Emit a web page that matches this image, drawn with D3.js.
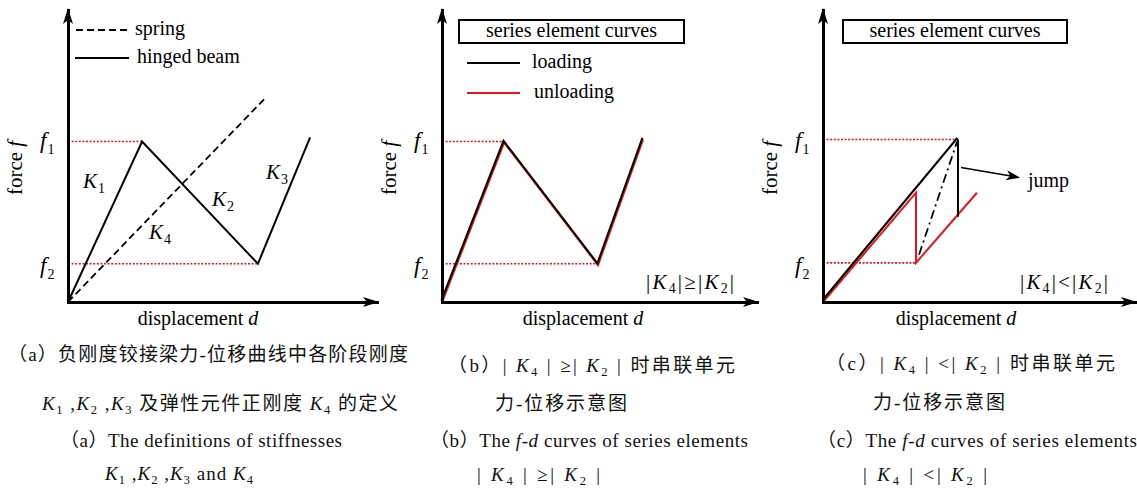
<!DOCTYPE html>
<html><head><meta charset="utf-8">
<script src="https://cdn.jsdelivr.net/npm/d3@7"></script>
<style>html,body{margin:0;padding:0;background:#fff}svg{display:block}</style>
</head><body>
<svg id="chart" width="1137" height="489"></svg>
<script>
// ---------------- data ----------------
const panelIds = ["a", "b", "c"];
const xMax = [103, 105, 104];          // displacement axis extent per panel
const yMax = 97;                        // force axis extent
const forceLevels = [53.3, 12.7];       // f1, f2
const forceLabels = ["1", "2"];

// panel (a)
const springA = [[0, 0], [66, 68]];
const hingedBeamA = [[0, 0], [24.7, 53.3], [63.3, 12.7], [80.7, 54.7]];
const refA = [[24.7, 53.3], [63.3, 12.7]];
const stiffLabelsA = [["1", 5, 38], ["2", 48, 32], ["3", 66, 41], ["4", 27, 21]];

// panel (b)
const loadingB = [[0, 0], [20.7, 53], [52, 12.3], [67, 54]];
const unloadingB = [[0, 0], [20.7, 53], [52, 12.3], [67, 54]];
const refB = [[20.7, 53.3], [52, 12.7]];

// panel (c)
const loadingC = [[0, 0], [45, 54], [45, 28.3]];
const unloadingC = [[0, 0], [31, 36.3], [31, 13], [51.3, 36.3]];
const jumpPathC = [[32, 15.7], [44.7, 53.3]];
const jumpArrowC = [[46, 44.7], [65.7, 41.3]];
const refC = [[45, 54], [31, 13]];

const legendA = ["spring", "hinged beam"];
const legendBC = ["loading", "unloading"];
const boxTitle = "series element curves";
const conditionText = ["|K_4|≥|K_2|", "|K_4|<|K_2|"];

const captions = [
  ["（a）负刚度铰接梁力-位移曲线中各阶段刚度", "K_1 ,K_2 ,K_3 及弹性元件正刚度 K_4 的定义",
   "（a）The definitions of stiffnesses", "K_1 ,K_2 ,K_3 and K_4"],
  ["（b）| K_4 | ≥| K_2 | 时串联单元", "力-位移示意图",
   "（b）The ~f-d~ curves of series elements", "| K_4 | ≥| K_2 |"],
  ["（c）| K_4 | <| K_2 | 时串联单元", "力-位移示意图",
   "（c）The ~f-d~ curves of series elements", "| K_4 | <| K_2 |"]
];

// ---------------- drawing ----------------
const SERIF = "'Liberation Serif','Times New Roman',serif";
const CAP = "'Liberation Serif','Noto Sans CJK SC',serif";
const RED = "#e8141b";
const svg = d3.select("#chart");

const yScale = d3.scaleLinear().domain([0, yMax]).range([302, 10]);
const xRanges = [[68, 377], [442, 757], [823, 1135]];
const xScales = xMax.map((m, i) => d3.scaleLinear().domain([0, m]).range(xRanges[i]));

function lineGen(x) {
  return d3.line().x(d => x(d[0])).y(d => yScale(d[1]));
}

// rich text: K_n => italic K + subscript n ; ~txt~ => italic
function rich(text, str, fs, shf) {
  const parts = str.split(/(K_\d|~[^~]+~)/).filter(s => s.length);
  const sh = fs * (shf || 0.28);
  let pending = 0;
  parts.forEach(p => {
    if (/^K_\d$/.test(p)) {
      const t1 = text.append("tspan").attr("font-style", "italic").attr("font-family", SERIF).text("K");
      if (pending) { t1.attr("dy", pending); pending = 0; }
      text.append("tspan").attr("font-size", fs * 0.66).attr("font-family", SERIF).attr("dy", sh).text(p[2]);
      pending = -sh;
    } else if (/^~.*~$/.test(p)) {
      const t = text.append("tspan").attr("font-style", "italic").attr("font-family", SERIF).text(p.slice(1, -1));
      if (pending) { t.attr("dy", pending); pending = 0; }
    } else {
      const t = text.append("tspan").text(p);
      if (pending) { t.attr("dy", pending); pending = 0; }
    }
  });
}

function drawAxes(g, x, i) {
  const y = yScale;
  const ax = g.append("g").attr("transform", `translate(0,${y(0)})`)
    .call(d3.axisBottom(x).tickValues([]).tickSizeOuter(0));
  const ay = g.append("g").attr("transform", `translate(${x(0)},0)`)
    .call(d3.axisLeft(y).tickValues([]).tickSizeOuter(0));
  [ax, ay].forEach(a => a.select(".domain").attr("stroke", "#000").attr("stroke-width", 3)
    .attr("stroke-linecap", "square"));
  const xe = x.range()[1], ye = y.range()[1], x0 = x(0), y0 = y(0);
  g.append("path").attr("fill", "#000")
    .attr("d", `M${xe + 2},${y0} L${xe - 14},${y0 - 5} L${xe - 10},${y0} L${xe - 14},${y0 + 5}Z`);
  g.append("path").attr("fill", "#000")
    .attr("d", `M${x0},${ye - 2} L${x0 - 5},${ye + 14} L${x0},${ye + 10} L${x0 + 5},${ye + 14}Z`);
  // axis titles
  const xt = g.append("text").attr("x", (x0 + (i === 0 ? 198 - 68 : i === 1 ? 583 - 442 : 956 - 823)))
    .attr("y", 325).attr("text-anchor", "middle").attr("font-family", SERIF).attr("font-size", 20);
  xt.append("tspan").text("displacement ");
  xt.append("tspan").attr("font-style", "italic").text("d");
  const yt = g.append("text").attr("transform", `translate(${x0 - 46},168) rotate(-90)`)
    .attr("text-anchor", "middle").attr("font-family", SERIF).attr("font-size", 21);
  yt.append("tspan").text("force ");
  yt.append("tspan").attr("font-style", "italic").text("f");
  // f1, f2 labels
  forceLevels.forEach((fv, k) => {
    const t = g.append("text").attr("x", x0 - 28).attr("y", y(fv) + (k === 0 ? 6 : 9))
      .attr("font-family", SERIF).attr("font-size", 23);
    t.append("tspan").attr("font-style", "italic").text("f");
    t.append("tspan").attr("font-size", 14).attr("dy", 6).attr("dx", 1).text(forceLabels[k]);
  });
}

function refLines(g, x, refs) {
  refs.forEach(r => {
    g.append("line").attr("x1", x(0)).attr("x2", x(r[0])).attr("y1", yScale(r[1])).attr("y2", yScale(r[1]))
      .attr("stroke", RED).attr("stroke-width", 1.6).attr("stroke-dasharray", "2,1.6");
  });
}

function box(g, x0, x1) {
  g.append("rect").attr("x", x0).attr("y", 20).attr("width", x1 - x0).attr("height", 23)
    .attr("fill", "#fff").attr("stroke", "#000").attr("stroke-width", 2);
  g.append("text").attr("x", (x0 + x1) / 2).attr("y", 37).attr("text-anchor", "middle")
    .attr("font-family", SERIF).attr("font-size", 20).text(boxTitle);
}

// ---- panel a ----
{
  const x = xScales[0], g = svg.append("g").attr("id", "panel-a");
  refLines(g, x, refA);
  g.append("path").datum(springA).attr("d", lineGen(x)).attr("fill", "none")
    .attr("stroke", "#000").attr("stroke-width", 1.8).attr("stroke-dasharray", "7,4");
  g.append("path").datum(hingedBeamA).attr("d", lineGen(x)).attr("fill", "none")
    .attr("stroke", "#000").attr("stroke-width", 2).attr("stroke-linejoin", "miter");
  drawAxes(g, x, 0);
  stiffLabelsA.forEach(s => {
    const t = g.append("text").attr("x", x(s[1])).attr("y", yScale(s[2]))
      .attr("font-family", SERIF).attr("font-size", 21);
    t.append("tspan").attr("font-style", "italic").text("K");
    t.append("tspan").attr("font-size", 14).attr("dy", 5).attr("dx", 1).text(s[0]);
  });
  // legend
  g.append("line").attr("x1", 76).attr("x2", 129).attr("y1", 30).attr("y2", 30)
    .attr("stroke", "#000").attr("stroke-width", 1.8).attr("stroke-dasharray", "7,4");
  g.append("text").attr("x", 135).attr("y", 35).attr("font-family", SERIF).attr("font-size", 20).text(legendA[0]);
  g.append("line").attr("x1", 75).attr("x2", 129).attr("y1", 58).attr("y2", 58)
    .attr("stroke", "#000").attr("stroke-width", 2);
  g.append("text").attr("x", 137).attr("y", 63).attr("font-family", SERIF).attr("font-size", 20).text(legendA[1]);
}

// ---- panel b ----
{
  const x = xScales[1], g = svg.append("g").attr("id", "panel-b");
  refLines(g, x, refB);
  g.append("path").datum(unloadingB).attr("d", lineGen(x)).attr("fill", "none")
    .attr("stroke", RED).attr("stroke-width", 2.2);
  g.append("path").datum(loadingB).attr("d", lineGen(x)).attr("fill", "none")
    .attr("transform", "translate(-0.6,-1.6)")
    .attr("stroke", "#000").attr("stroke-width", 2);
  drawAxes(g, x, 1);
  box(g, 459, 684);
  g.append("line").attr("x1", 467).attr("x2", 520).attr("y1", 63).attr("y2", 63).attr("stroke", "#000").attr("stroke-width", 2);
  g.append("text").attr("x", 532).attr("y", 68).attr("font-family", SERIF).attr("font-size", 20).text(legendBC[0]);
  g.append("line").attr("x1", 467).attr("x2", 520).attr("y1", 93).attr("y2", 93).attr("stroke", RED).attr("stroke-width", 2);
  g.append("text").attr("x", 534).attr("y", 98).attr("font-family", SERIF).attr("font-size", 20).text(legendBC[1]);
  const ct = g.append("text").attr("x", 646).attr("y", 289).attr("font-family", SERIF).attr("font-size", 21)
    .attr("textLength", 88).attr("lengthAdjust", "spacing");
  rich(ct, conditionText[0], 21, 0.2);
}

// ---- panel c ----
{
  const x = xScales[2], g = svg.append("g").attr("id", "panel-c");
  refLines(g, x, refC);
  g.append("path").datum(unloadingC).attr("d", lineGen(x)).attr("fill", "none")
    .attr("stroke", RED).attr("stroke-width", 2);
  g.append("path").datum(loadingC.slice(0, 2)).attr("d", lineGen(x)).attr("fill", "none")
    .attr("transform", "translate(-0.6,-1.6)")
    .attr("stroke", "#000").attr("stroke-width", 2.2);
  g.append("path").datum(loadingC.slice(1)).attr("d", lineGen(x)).attr("fill", "none")
    .attr("stroke", "#000").attr("stroke-width", 2);
  g.append("path").datum(jumpPathC).attr("d", lineGen(x)).attr("fill", "none")
    .attr("stroke", "#000").attr("stroke-width", 1.8).attr("stroke-dasharray", "9,4,2,4");
  // jump arrow
  const a0 = jumpArrowC[0], a1 = jumpArrowC[1];
  const X0 = x(a0[0]), Y0 = yScale(a0[1]), X1 = x(a1[0]), Y1 = yScale(a1[1]);
  const ang = Math.atan2(Y1 - Y0, X1 - X0);
  g.append("line").attr("x1", X0).attr("y1", Y0).attr("x2", X1 - 8 * Math.cos(ang)).attr("y2", Y1 - 8 * Math.sin(ang))
    .attr("stroke", "#000").attr("stroke-width", 1.6);
  g.append("path").attr("fill", "#000")
    .attr("transform", `translate(${X1},${Y1}) rotate(${ang * 180 / Math.PI})`)
    .attr("d", "M0,0 L-14,-5 L-10,0 L-14,5Z");
  g.append("text").attr("x", 1028).attr("y", 187).attr("font-family", SERIF).attr("font-size", 20).text("jump");
  drawAxes(g, x, 2);
  box(g, 843, 1067);
  const ct = g.append("text").attr("x", 1020).attr("y", 289).attr("font-family", SERIF).attr("font-size", 21)
    .attr("textLength", 88).attr("lengthAdjust", "spacing");
  rich(ct, conditionText[1], 21, 0.2);
}

// ---- captions ----
const capLayout = [
  [[8, 361, 400], [42, 410, 356], [60, 447, 282], [105, 480, 148]],
  [[448, 372, 287], [495, 410, 132], [430, 447, 318], [477, 481, 123]],
  [[826, 370, 289], [873, 409, 132], [817, 447, 320], [863, 481, 124]]
];
captions.forEach((lines, p) => {
  const g = svg.append("g").attr("class", "caption-" + panelIds[p]);
  lines.forEach((str, k) => {
    const [cx, cy, len] = capLayout[p][k];
    const fs = 19;
    const t = g.append("text").attr("x", cx).attr("y", cy).attr("font-family", CAP).attr("font-size", fs)
      .attr("fill", "#111").attr("textLength", len).attr("lengthAdjust", "spacing");
    rich(t, str, fs, 0.2);
  });
});
</script>
</body></html>
